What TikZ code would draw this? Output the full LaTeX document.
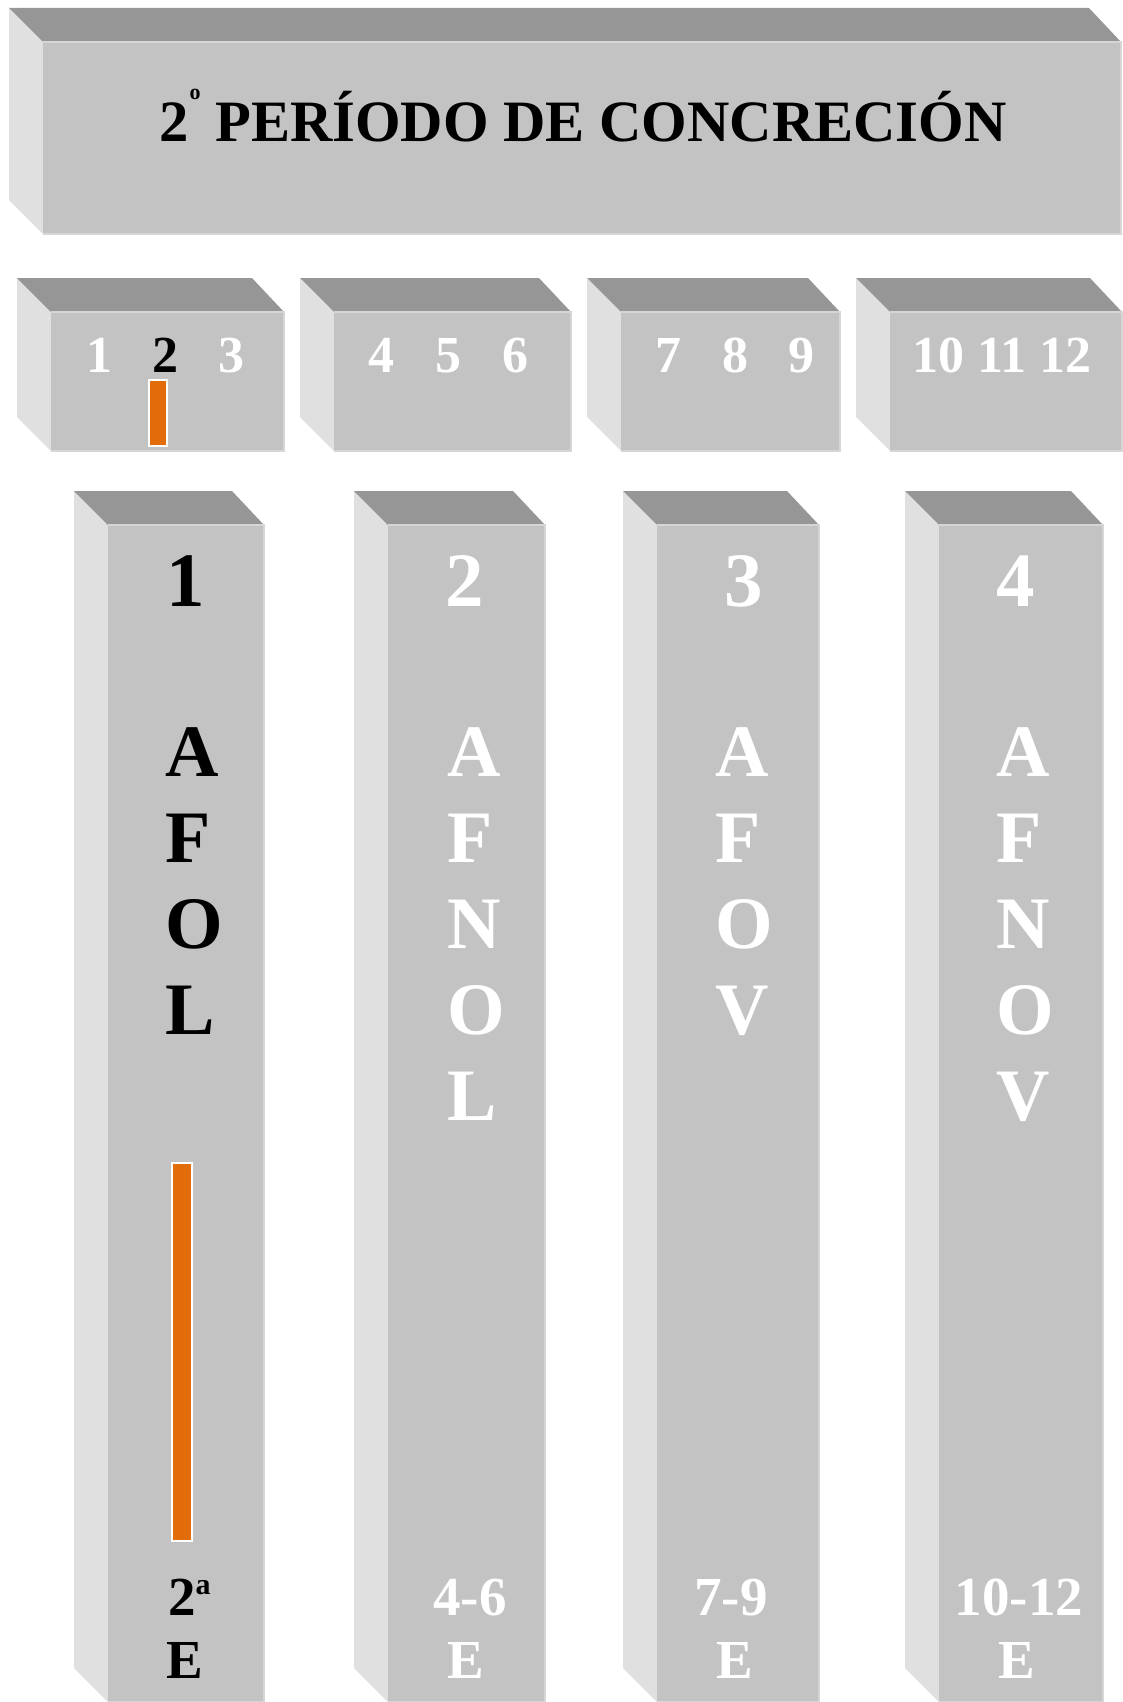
\documentclass[tikz,border=0pt]{standalone}
\usepackage{fontspec}
\setmainfont{Liberation Serif}
\definecolor{frontc}{RGB}{195,195,195}
\definecolor{topc}{RGB}{150,150,150}
\definecolor{sidec}{RGB}{224,224,224}
\definecolor{edgec}{RGB}{214,214,214}
\definecolor{orangec}{RGB}{227,108,10}
% #1,#2 = front top-left ; #3,#4 = front bottom-right
\newcommand\cuboid[4]{%
  \fill[sidec] ({#1-34},{#2-34}) -- (#1,#2) -- (#1,#4) -- ({#1-34},{#4-34}) -- cycle;
  \fill[topc] ({#1-34},{#2-34}) -- ({#3-32},{#2-34}) -- (#3,#2) -- (#1,#2) -- cycle;
  \fill[frontc] (#1,#2) rectangle (#3,#4);
  \draw[edgec, line width=1.5] (#1,#4) -- (#3,#4) -- (#3,#2) -- (#1,#2);
}
\tikzset{
  lbl/.style={font=\bfseries, inner sep=0, anchor=base west, text=white},
  smallnum/.style={lbl, font=\fontsize{52}{52}\selectfont\bfseries},
  bignum/.style={lbl, font=\fontsize{77}{77}\selectfont\bfseries},
  letter/.style={lbl, font=\fontsize{74}{74}\selectfont\bfseries},
  bottomtxt/.style={lbl, anchor=base, font=\fontsize{55}{55}\selectfont\bfseries},
  marker/.style={fill=orangec, draw=white, line width=2}
}
\begin{document}
\begin{tikzpicture}[x=1pt, y=-1pt]
\useasboundingbox (0,0) rectangle (1123,1702);
% title block
\cuboid{43}{42}{1121}{234}
\node[lbl, anchor=base, text=black, font=\fontsize{58.6}{58.6}\selectfont\bfseries] (title) at (583,141)
  {2\hspace{1pt}\raisebox{42pt}{\fontsize{22}{22}\selectfont o}\ PERÍODO DE CONCRECIÓN};
% month blocks
\cuboid{51}{312}{284}{451}
\cuboid{334}{312}{571}{451}
\cuboid{621}{312}{840}{451}
\cuboid{890}{312}{1122}{451}
\node[smallnum] (m1) at (86,372) {1};
\node[smallnum, text=black] (m2) at (152,372) {2};
\node[smallnum] (m3) at (218,372) {3};
\node[smallnum] (m4) at (368,372) {4};
\node[smallnum] (m5) at (435,372) {5};
\node[smallnum] (m6) at (502,372) {6};
\node[smallnum] (m7) at (655,372) {7};
\node[smallnum] (m8) at (722,372) {8};
\node[smallnum] (m9) at (788,372) {9};
\node[smallnum] (m10) at (912,372) {10 11 12};
\draw[marker] (149,380) rectangle (167,446);
% columns
\cuboid{108}{525}{264}{1702}
\cuboid{388}{525}{545}{1702}
\cuboid{657}{525}{819}{1702}
\cuboid{939}{525}{1103}{1702}
\node[bignum, text=black] (c1) at (166,606) {1};
\node[bignum] (c2) at (445,606) {2};
\node[bignum] (c3) at (724,606) {3};
\node[bignum] (c4) at (996,606) {4};
\foreach \l [count=\i from 0] in {A,F,O,L}
  \node[letter, text=black] (a\i) at (165,{776+86*\i}) {\l};
\foreach \l [count=\i from 0] in {A,F,N,O,L}
  \node[letter] (b\i) at (447,{776+86*\i}) {\l};
\foreach \l [count=\i from 0] in {A,F,O,V}
  \node[letter] (c\i) at (715,{776+86*\i}) {\l};
\foreach \l [count=\i from 0] in {A,F,N,O,V}
  \node[letter] (d\i) at (996,{776+86*\i}) {\l};
\draw[marker] (172,1163) rectangle (192,1541);
% bottom labels
\node[bottomtxt, anchor=base west, text=black] (e1) at (168,1615) {2\raisebox{21pt}{\fontsize{30}{30}\selectfont a}};
\node[bottomtxt, text=black] (f1) at (185,1678) {E};
\node[bottomtxt] (e2) at (470,1615) {4-6};
\node[bottomtxt] (f2) at (466,1678) {E};
\node[bottomtxt] (e3) at (731,1615) {7-9};
\node[bottomtxt] (f3) at (735,1678) {E};
\node[bottomtxt] (e4) at (1019,1615) {10-12};
\node[bottomtxt] (f4) at (1017,1678) {E};
\end{tikzpicture}
\end{document}
